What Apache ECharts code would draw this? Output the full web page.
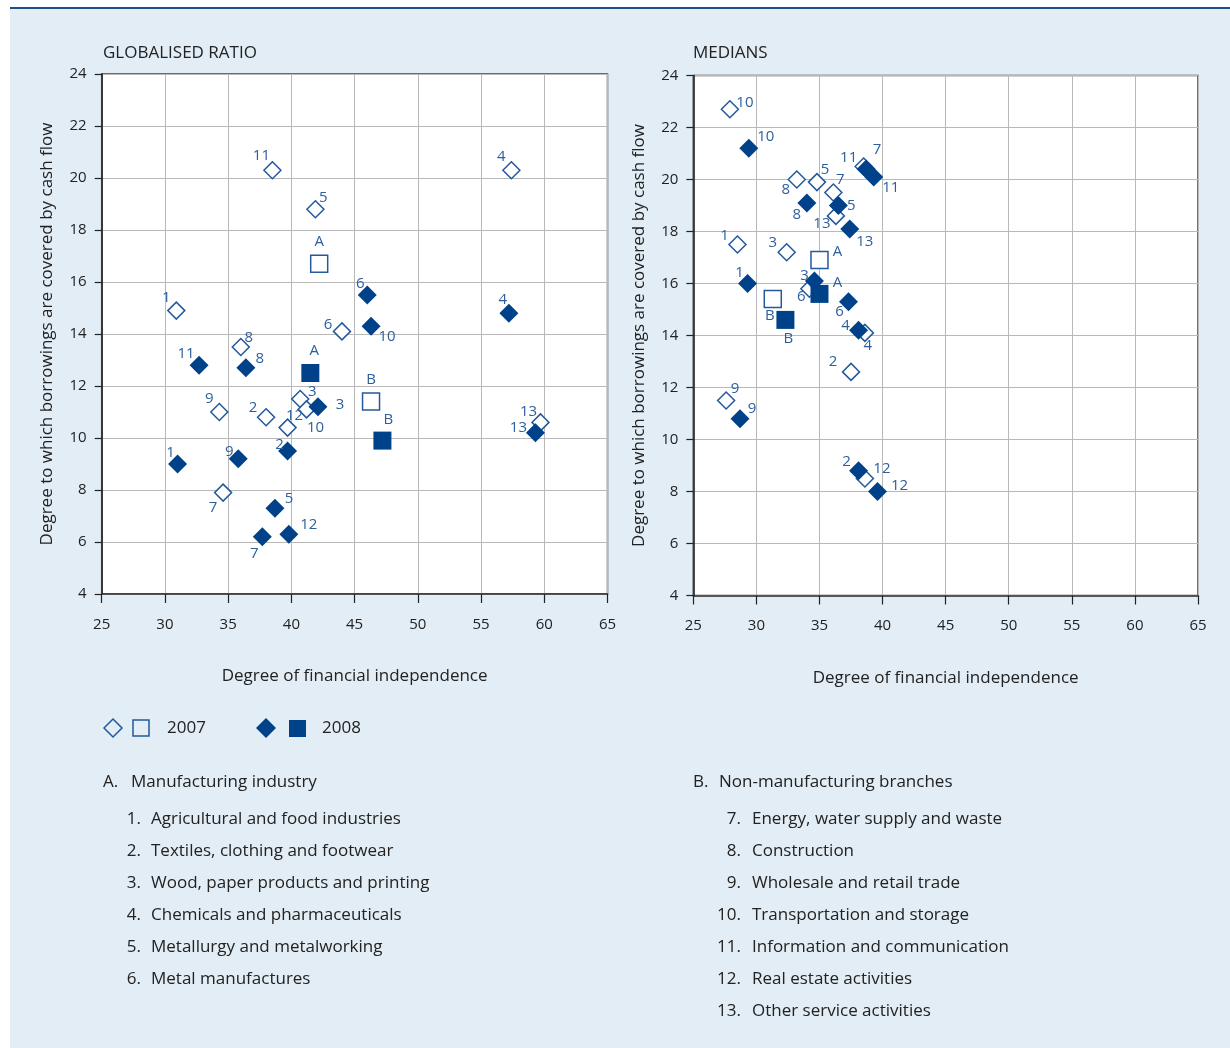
<!DOCTYPE html>
<html>
<head>
<meta charset="utf-8">
<script src="https://cdn.jsdelivr.net/npm/echarts@6/dist/echarts.min.js"></script>
<style>
html,body{margin:0;padding:0;background:#fff;}
#chart{width:1230px;height:1048px;}
</style>
</head>
<body>
<div id="chart"></div>
<script>
// ---------- DATA ----------
const industryKeys = ['1','2','3','4','5','6','7','8','9','10','11','12','13'];
const aggregateKeys = ['A','B'];

// Left panel: globalised ratio
const globX2007 = [30.9, 38.0, 40.7, 57.4, 41.9, 44.0, 34.6, 36.0, 34.3, 41.2, 38.5, 39.7, 59.7];
const globY2007 = [14.9, 10.8, 11.5, 20.3, 18.8, 14.1, 7.9, 13.5, 11.0, 11.1, 20.3, 10.4, 10.6];
const globX2008 = [31.0, 39.7, 42.1, 57.2, 38.7, 46.0, 37.7, 36.4, 35.8, 46.3, 32.7, 39.8, 59.3];
const globY2008 = [9.0, 9.5, 11.2, 14.8, 7.3, 15.5, 6.2, 12.7, 9.2, 14.3, 12.8, 6.3, 10.2];
const globAggX2007 = [42.2, 46.3];
const globAggY2007 = [16.7, 11.4];
const globAggX2008 = [41.5, 47.2];
const globAggY2008 = [12.5, 9.9];

// Right panel: medians
const medX2007 = [28.5, 37.5, 32.4, 38.6, 34.8, 34.2, 36.1, 33.2, 27.6, 27.9, 38.5, 38.6, 36.3];
const medY2007 = [17.5, 12.6, 17.2, 14.1, 19.9, 15.8, 19.5, 20.0, 11.5, 22.7, 20.5, 8.5, 18.6];
const medX2008 = [29.3, 38.1, 34.6, 38.1, 36.5, 37.3, 38.7, 34.0, 28.7, 29.4, 39.3, 39.6, 37.4];
const medY2008 = [16.0, 8.8, 16.1, 14.2, 19.0, 15.3, 20.4, 19.1, 10.8, 21.2, 20.1, 8.0, 18.1];
const medAggX2007 = [35.0, 31.3];
const medAggY2007 = [16.9, 15.4];
const medAggX2008 = [35.0, 32.3];
const medAggY2008 = [15.6, 14.6];

const panelTitles = ['GLOBALISED RATIO', 'MEDIANS'];
const xAxisName = 'Degree of financial independence';
const yAxisName = 'Degree to which borrowings are covered by cash flow';
const legendLabels = ['2007', '2008'];
const headingA = ['A.', 'Manufacturing industry'];
const headingB = ['B.', 'Non-manufacturing branches'];
const sectorNames = [
  'Agricultural and food industries',
  'Textiles, clothing and footwear',
  'Wood, paper products and printing',
  'Chemicals and pharmaceuticals',
  'Metallurgy and metalworking',
  'Metal manufactures',
  'Energy, water supply and waste',
  'Construction',
  'Wholesale and retail trade',
  'Transportation and storage',
  'Information and communication',
  'Real estate activities',
  'Other service activities'
];

// ---------- LABEL PLACEMENT (style) ----------
const labelOffsets = {
  glob2007: {'1':[-10,-13],'2':[-13,-9],'3':[12,-7],'4':[-10,-13],'5':[8,-11],'6':[-14,-7],'7':[-10,15],'8':[8,-9],'9':[-10,-13],'10':[9,18],'11':[-11,-14],'12':[7,-12],'13':[-12,-11],'A':[0,-22],'B':[0,-22]},
  glob2008: {'1':[-7,-11],'2':[-8,-6],'3':[22,-2],'4':[-6,-13],'5':[14,-9],'6':[-7,-11],'7':[-8,17],'8':[14,-9],'9':[-9,-7],'10':[16,11],'11':[-13,-11],'12':[20,-9],'13':[-17,-5],'A':[4,-22],'B':[6,-21]},
  med2007: {'1':[-13,-9],'2':[-18,-10],'3':[-14,-10],'4':[3,13],'5':[8,-12],'6':[-8,8],'7':[7,-13],'8':[-11,10],'9':[9,-12],'10':[15,-7],'11':[-15,-9],'12':[17,-10],'13':[-14,8],'A':[18,-8],'B':[-3,17]},
  med2008: {'1':[-8,-11],'2':[-12,-9],'3':[-10,-5],'4':[-13,-5],'5':[13,0],'6':[-9,10],'7':[11,-19],'8':[-10,12],'9':[12,-10],'10':[17,-12],'11':[17,11],'12':[22,-6],'13':[15,13],'A':[18,-11],'B':[3,19]}
};

const FONT = '"Open Sans", "Noto Sans", sans-serif';
const OPEN = '#24599b';
const FILLED = '#00428a';
const LABEL = '#2d5f9c';
const TEXT = '#222';

function pts(keys, xs, ys) {
  return keys.map((k, i) => ({ name: k, value: [xs[i], ys[i]] }));
}

function scatter(idx, keys, xs, ys, offs, symbol, filled) {
  return {
    type: 'scatter',
    xAxisIndex: idx, yAxisIndex: idx,
    symbol: symbol,
    symbolSize: filled ? (symbol === 'diamond' ? 19 : 18) : 17,
    itemStyle: filled
      ? { color: FILLED, borderWidth: 0, opacity: 1 }
      : { color: '#ffffff', borderColor: OPEN, borderWidth: 1.5, opacity: 1 },
    label: {
      show: true, position: 'inside', formatter: '{b}',
      color: LABEL, fontSize: 15, fontFamily: FONT
    },
    labelLayout: function (p) {
      const o = offs[keys[p.dataIndex]] || [0, 0];
      return { dx: o[0], dy: o[1], hideOverlap: false };
    },
    emphasis: { disabled: true },
    z: filled ? 3 : 2,
    data: pts(keys, xs, ys)
  };
}

function xAx(idx) {
  return {
    gridIndex: idx, type: 'value', min: 25, max: 65, interval: 5,
    name: xAxisName, nameLocation: 'middle', nameGap: 74,
    nameTextStyle: { color: TEXT, fontSize: 17, fontFamily: FONT },
    axisLine: { show: true, onZero: false, lineStyle: { color: '#333', width: 1.5 } },
    axisTick: { show: true, inside: false, length: 9, lineStyle: { color: '#222', width: 1.2 } },
    axisLabel: { color: TEXT, fontSize: 15, fontFamily: FONT, margin: 23 },
    splitLine: { show: true, lineStyle: { color: '#b8b8b8', width: 1 } }
  };
}
function yAx(idx) {
  return {
    gridIndex: idx, type: 'value', min: 4, max: 24, interval: 2,
    name: yAxisName, nameLocation: 'middle', nameGap: 46, nameRotate: 90,
    nameTextStyle: { color: TEXT, fontSize: 17, fontFamily: FONT },
    axisLine: { show: true, onZero: false, lineStyle: { color: '#111', width: 1.5 } },
    axisTick: { show: true, inside: false, length: 7, lineStyle: { color: '#222', width: 1.2 } },
    axisLabel: { color: TEXT, fontSize: 15, fontFamily: FONT, margin: 15 },
    splitLine: { show: true, lineStyle: { color: '#b8b8b8', width: 1 } }
  };
}

// Graphic elements: background panel, legend, key lists
const graphics = [];
graphics.push({ type: 'rect', z: -10, shape: { x: 10, y: 8, width: 1220, height: 1040 }, style: { fill: '#e2edf5' }, silent: true });
graphics.push({ type: 'rect', z: -9, shape: { x: 10, y: 7, width: 1220, height: 2 }, style: { fill: '#1d4f8e' }, silent: true });

// titles
graphics.push({ type: 'text', x: 103, y: 53, style: { text: panelTitles[0], fill: TEXT, font: '17px ' + FONT, verticalAlign: 'middle' } });
graphics.push({ type: 'text', x: 693, y: 53, style: { text: panelTitles[1], fill: TEXT, font: '17px ' + FONT, verticalAlign: 'middle' } });

// legend
graphics.push({ type: 'polygon', shape: { points: [[113,719],[122,728],[113,737],[104,728]] }, style: { fill: 'none', stroke: OPEN, lineWidth: 1.5 } });
graphics.push({ type: 'rect', shape: { x: 133, y: 720, width: 16, height: 16 }, style: { fill: 'none', stroke: OPEN, lineWidth: 1.5 } });
graphics.push({ type: 'text', x: 167, y: 728, style: { text: legendLabels[0], fill: TEXT, font: '17px ' + FONT, verticalAlign: 'middle' } });
graphics.push({ type: 'polygon', shape: { points: [[266,718],[276,728],[266,738],[256,728]] }, style: { fill: FILLED } });
graphics.push({ type: 'rect', shape: { x: 289, y: 720, width: 17, height: 17 }, style: { fill: FILLED } });
graphics.push({ type: 'text', x: 322, y: 728, style: { text: legendLabels[1], fill: TEXT, font: '17px ' + FONT, verticalAlign: 'middle' } });

// key lists
function listText(x, y, t, align) {
  graphics.push({ type: 'text', x: x, y: y, style: { text: t, fill: TEXT, font: '17px ' + FONT, verticalAlign: 'middle', align: align || 'left' } });
}
listText(103, 782, headingA[0]); listText(131, 782, headingA[1]);
listText(693, 782, headingB[0]); listText(719, 782, headingB[1]);
sectorNames.forEach((s, i) => {
  const left = i < 6;
  const row = left ? i : i - 6;
  const y = 819 + row * 32;
  const numRight = left ? 141 : 741;
  const textX = left ? 151 : 752;
  listText(numRight, y, (i + 1) + '.', 'right');
  listText(textX, y, s);
});

const option = {
  animation: false,
  backgroundColor: '#ffffff',
  textStyle: { fontFamily: FONT },
  grid: [
    { left: 101.7, right: 622.5, top: 74, bottom: 454, show: true, backgroundColor: '#ffffff', borderColor: '#444', borderWidth: 1.5 },
    { left: 693.3, right: 32, top: 75.5, bottom: 452.5, show: true, backgroundColor: '#ffffff', borderColor: '#444', borderWidth: 1.5 }
  ],
  xAxis: [xAx(0), xAx(1)],
  yAxis: [yAx(0), yAx(1)],
  series: [
    scatter(0, industryKeys, globX2007, globY2007, labelOffsets.glob2007, 'diamond', false),
    scatter(0, aggregateKeys, globAggX2007, globAggY2007, labelOffsets.glob2007, 'rect', false),
    scatter(0, industryKeys, globX2008, globY2008, labelOffsets.glob2008, 'diamond', true),
    scatter(0, aggregateKeys, globAggX2008, globAggY2008, labelOffsets.glob2008, 'rect', true),
    scatter(1, industryKeys, medX2007, medY2007, labelOffsets.med2007, 'diamond', false),
    scatter(1, aggregateKeys, medAggX2007, medAggY2007, labelOffsets.med2007, 'rect', false),
    scatter(1, industryKeys, medX2008, medY2008, labelOffsets.med2008, 'diamond', true),
    scatter(1, aggregateKeys, medAggX2008, medAggY2008, labelOffsets.med2008, 'rect', true)
  ],
  graphic: graphics
};

const chart = echarts.init(document.getElementById('chart'), null, { renderer: 'canvas' });
chart.setOption(option);
</script>
</body>
</html>
